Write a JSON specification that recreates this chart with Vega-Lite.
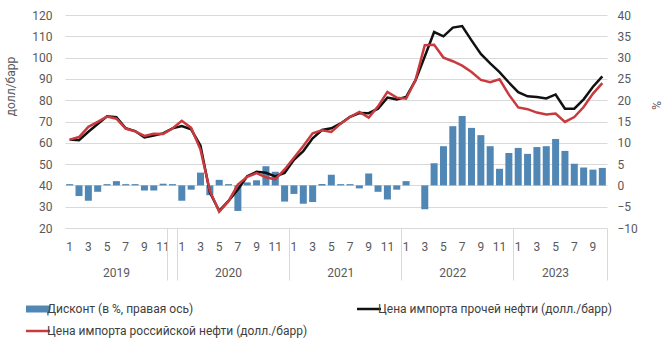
{
  "$schema": "https://vega.github.io/schema/vega-lite/v6.json",
  "width": 542,
  "height": 213,
  "autosize": {"type": "none"},
  "padding": {"left": 65, "top": 15, "right": 57, "bottom": 133},
  "background": "white",
  "config": {
    "font": "Roboto",
    "view": {"stroke": null},
    "axis": {"labelFont": "Roboto", "labelFontSize": 12, "labelColor": "#595959", "titleFont": "Roboto", "titleFontSize": 12, "titleFontWeight": "normal", "titleColor": "#595959"}
  },
  "datasets": {
    "disc": [
      {"m": "2019-01", "d": 0.3}, {"m": "2019-02", "d": -2.5}, {"m": "2019-03", "d": -3.6}, {"m": "2019-04", "d": -1.5}, {"m": "2019-05", "d": 0.3}, {"m": "2019-06", "d": 1.0}, {"m": "2019-07", "d": 0.3}, {"m": "2019-08", "d": 0.3}, {"m": "2019-09", "d": -1.2}, {"m": "2019-10", "d": -1.2}, {"m": "2019-11", "d": 0.4}, {"m": "2019-12", "d": 0.3},
      {"m": "2020-01", "d": -3.6}, {"m": "2020-02", "d": -1.0}, {"m": "2020-03", "d": 3.0}, {"m": "2020-04", "d": -2.3}, {"m": "2020-05", "d": 1.3}, {"m": "2020-06", "d": 0.3}, {"m": "2020-07", "d": -6.0}, {"m": "2020-08", "d": 0.7}, {"m": "2020-09", "d": 1.2}, {"m": "2020-10", "d": 4.5}, {"m": "2020-11", "d": 3.2}, {"m": "2020-12", "d": -3.8},
      {"m": "2021-01", "d": -2.0}, {"m": "2021-02", "d": -4.3}, {"m": "2021-03", "d": -3.9}, {"m": "2021-04", "d": 0.3}, {"m": "2021-05", "d": 2.5}, {"m": "2021-06", "d": 0.3}, {"m": "2021-07", "d": 0.3}, {"m": "2021-08", "d": -0.7}, {"m": "2021-09", "d": 2.8}, {"m": "2021-10", "d": -1.5}, {"m": "2021-11", "d": -3.3}, {"m": "2021-12", "d": -1.0},
      {"m": "2022-01", "d": 1.0}, {"m": "2022-02", "d": 0.0}, {"m": "2022-03", "d": -5.6}, {"m": "2022-04", "d": 5.2}, {"m": "2022-05", "d": 9.2}, {"m": "2022-06", "d": 13.9}, {"m": "2022-07", "d": 16.3}, {"m": "2022-08", "d": 13.5}, {"m": "2022-09", "d": 11.8}, {"m": "2022-10", "d": 9.2}, {"m": "2022-11", "d": 3.9}, {"m": "2022-12", "d": 7.6},
      {"m": "2023-01", "d": 8.8}, {"m": "2023-02", "d": 7.4}, {"m": "2023-03", "d": 9.0}, {"m": "2023-04", "d": 9.2}, {"m": "2023-05", "d": 10.9}, {"m": "2023-06", "d": 8.1}, {"m": "2023-07", "d": 5.1}, {"m": "2023-08", "d": 4.2}, {"m": "2023-09", "d": 3.7}, {"m": "2023-10", "d": 4.1}
    ],
    "other": [
      {"m": "2019-01", "v": 61.6}, {"m": "2019-02", "v": 61.2}, {"m": "2019-03", "v": 65.2}, {"m": "2019-04", "v": 68.8}, {"m": "2019-05", "v": 72.4}, {"m": "2019-06", "v": 72.0}, {"m": "2019-07", "v": 66.8}, {"m": "2019-08", "v": 65.5}, {"m": "2019-09", "v": 62.5}, {"m": "2019-10", "v": 63.4}, {"m": "2019-11", "v": 64.4}, {"m": "2019-12", "v": 66.8},
      {"m": "2020-01", "v": 67.9}, {"m": "2020-02", "v": 66.3}, {"m": "2020-03", "v": 58.6}, {"m": "2020-04", "v": 36.7}, {"m": "2020-05", "v": 28.0}, {"m": "2020-06", "v": 32.7}, {"m": "2020-07", "v": 38.1}, {"m": "2020-08", "v": 44.3}, {"m": "2020-09", "v": 46.4}, {"m": "2020-10", "v": 45.9}, {"m": "2020-11", "v": 44.2}, {"m": "2020-12", "v": 45.8},
      {"m": "2021-01", "v": 52.0}, {"m": "2021-02", "v": 56.1}, {"m": "2021-03", "v": 62.1}, {"m": "2021-04", "v": 66.0}, {"m": "2021-05", "v": 66.8}, {"m": "2021-06", "v": 69.1}, {"m": "2021-07", "v": 72.2}, {"m": "2021-08", "v": 74.0}, {"m": "2021-09", "v": 73.9}, {"m": "2021-10", "v": 76.0}, {"m": "2021-11", "v": 81.2}, {"m": "2021-12", "v": 80.4},
      {"m": "2022-01", "v": 81.5}, {"m": "2022-02", "v": 89.3}, {"m": "2022-03", "v": 100.5}, {"m": "2022-04", "v": 112.0}, {"m": "2022-05", "v": 110.0}, {"m": "2022-06", "v": 114.1}, {"m": "2022-07", "v": 114.8}, {"m": "2022-08", "v": 108.1}, {"m": "2022-09", "v": 101.7}, {"m": "2022-10", "v": 97.3}, {"m": "2022-11", "v": 93.2}, {"m": "2022-12", "v": 88.3},
      {"m": "2023-01", "v": 83.8}, {"m": "2023-02", "v": 81.8}, {"m": "2023-03", "v": 81.5}, {"m": "2023-04", "v": 80.8}, {"m": "2023-05", "v": 82.7}, {"m": "2023-06", "v": 76.0}, {"m": "2023-07", "v": 76.0}, {"m": "2023-08", "v": 80.4}, {"m": "2023-09", "v": 86.3}, {"m": "2023-10", "v": 91.2}
    ],
    "russian": [
      {"m": "2019-01", "v": 61.5}, {"m": "2019-02", "v": 62.7}, {"m": "2019-03", "v": 67.5}, {"m": "2019-04", "v": 69.8}, {"m": "2019-05", "v": 72.3}, {"m": "2019-06", "v": 71.3}, {"m": "2019-07", "v": 66.7}, {"m": "2019-08", "v": 65.4}, {"m": "2019-09", "v": 63.2}, {"m": "2019-10", "v": 64.2}, {"m": "2019-11", "v": 64.1}, {"m": "2019-12", "v": 66.7},
      {"m": "2020-01", "v": 70.3}, {"m": "2020-02", "v": 67.0}, {"m": "2020-03", "v": 56.8}, {"m": "2020-04", "v": 37.5}, {"m": "2020-05", "v": 27.6}, {"m": "2020-06", "v": 32.6}, {"m": "2020-07", "v": 40.4}, {"m": "2020-08", "v": 44.0}, {"m": "2020-09", "v": 45.8}, {"m": "2020-10", "v": 43.8}, {"m": "2020-11", "v": 42.8}, {"m": "2020-12", "v": 47.5},
      {"m": "2021-01", "v": 53.0}, {"m": "2021-02", "v": 58.5}, {"m": "2021-03", "v": 64.5}, {"m": "2021-04", "v": 65.9}, {"m": "2021-05", "v": 65.1}, {"m": "2021-06", "v": 69.0}, {"m": "2021-07", "v": 72.1}, {"m": "2021-08", "v": 74.5}, {"m": "2021-09", "v": 71.8}, {"m": "2021-10", "v": 77.1}, {"m": "2021-11", "v": 83.9}, {"m": "2021-12", "v": 81.2},
      {"m": "2022-01", "v": 80.7}, {"m": "2022-02", "v": 89.3}, {"m": "2022-03", "v": 105.8}, {"m": "2022-04", "v": 106.0}, {"m": "2022-05", "v": 100.0}, {"m": "2022-06", "v": 98.3}, {"m": "2022-07", "v": 96.2}, {"m": "2022-08", "v": 93.2}, {"m": "2022-09", "v": 89.5}, {"m": "2022-10", "v": 88.5}, {"m": "2022-11", "v": 89.8}, {"m": "2022-12", "v": 82.6},
      {"m": "2023-01", "v": 76.6}, {"m": "2023-02", "v": 75.8}, {"m": "2023-03", "v": 74.2}, {"m": "2023-04", "v": 73.3}, {"m": "2023-05", "v": 73.7}, {"m": "2023-06", "v": 69.8}, {"m": "2023-07", "v": 72.1}, {"m": "2023-08", "v": 76.8}, {"m": "2023-09", "v": 83.1}, {"m": "2023-10", "v": 88.0}
    ]
  },
  "resolve": {"scale": {"y": "independent"}, "axis": {"x": "independent"}},
  "layer": [
    {
      "data": {"name": "disc"},
      "mark": {"type": "bar", "width": {"band": 0.75}},
      "encoding": {
        "x": {"field": "m", "type": "ordinal", "sort": null,
          "scale": {"paddingInner": 0, "paddingOuter": 0},
          "axis": {"orient": "bottom", "title": null, "labelAngle": 0, "ticks": false, "domain": false, "grid": false, "labelPadding": 13, "labelOverlap": false,
            "labelExpr": "toNumber(substring(datum.value,5,7)) % 2 == 1 ? '' + toNumber(substring(datum.value,5,7)) : ''"}},
        "y": {"field": "d", "type": "quantitative",
          "scale": {"domain": [-10, 40], "nice": false, "zero": false},
          "axis": {"orient": "right", "title": "%", "values": [-10, -5, 0, 5, 10, 15, 20, 25, 30, 35, 40], "grid": false, "ticks": false, "domain": false, "labelPadding": 10, "titleX": 41, "titleY": 90}},
        "color": {"datum": "Дисконт (в %, правая ось)", "type": "nominal",
          "scale": {"domain": ["Дисконт (в %, правая ось)", "Цена импорта прочей нефти (долл./барр)", "Цена импорта российской нефти (долл./барр)"], "range": ["#5087b5", "#111111", "#c93a3e"]},
          "legend": {"orient": "none", "direction": "horizontal", "legendX": -33, "legendY": 288, "columns": 2, "columnPadding": 44, "rowPadding": 10, "padding": 0,
            "labelFont": "Roboto", "labelFontSize": 12, "labelColor": "#404040", "labelLimit": 400, "symbolSize": 400, "labelOffset": 3, "title": null,
            "encode": {"symbols": {"update": {
              "shape": {"signal": "datum.index === 0 ? 'M-1.2,-0.35H1.2V0.35H-1.2Z' : 'M-1.2,0H1.2'"},
              "fill": {"signal": "datum.index === 0 ? '#5087b5' : 'transparent'"},
              "stroke": {"signal": "datum.index === 0 ? '#5087b5' : (datum.index === 1 ? '#111111' : '#c93a3e')"},
              "strokeWidth": {"signal": "datum.index === 0 ? 0 : 2.5"},
              "opacity": {"value": 1}
            }}}}}
      }
    },
    {
      "data": {"name": "other"},
      "mark": {"type": "line", "strokeWidth": 2.5},
      "encoding": {
        "x": {"field": "m", "type": "ordinal", "sort": null,
          "axis": {"orient": "bottom", "title": null, "values": ["2019-06", "2020-06", "2021-06", "2022-06", "2023-05"], "bandPosition": 1, "labelAngle": 0, "ticks": false, "domain": false, "grid": false, "labelPadding": 39, "labelExpr": "substring(datum.value,0,4)"}},
        "y": {"field": "v", "type": "quantitative",
          "scale": {"domain": [20, 120], "nice": false, "zero": false},
          "axis": {"orient": "left", "title": "долл/барр", "values": [20, 30, 40, 50, 60, 70, 80, 90, 100, 110, 120], "grid": true, "gridColor": "#d9d9d9", "ticks": false, "domain": false, "labelPadding": 13, "titleX": -48, "titleY": 71}},
        "color": {"datum": "Цена импорта прочей нефти (долл./барр)", "type": "nominal"}
      }
    },
    {
      "data": {"name": "russian"},
      "mark": {"type": "line", "strokeWidth": 2.5},
      "encoding": {
        "x": {"field": "m", "type": "ordinal", "sort": null,
          "axis": {"orient": "bottom", "title": null, "values": ["2019-12", "2020-12", "2021-12", "2022-12", "2023-10"], "bandPosition": 1, "tickExtra": true, "labels": false, "domain": false, "grid": false, "ticks": true, "tickSize": 52, "tickColor": "#d9d9d9", "tickWidth": 1}},
        "y": {"field": "v", "type": "quantitative",
          "scale": {"domain": [20, 120], "nice": false, "zero": false},
          "axis": null},
        "color": {"datum": "Цена импорта российской нефти (долл./барр)", "type": "nominal"}
      }
    }
  ]
}
